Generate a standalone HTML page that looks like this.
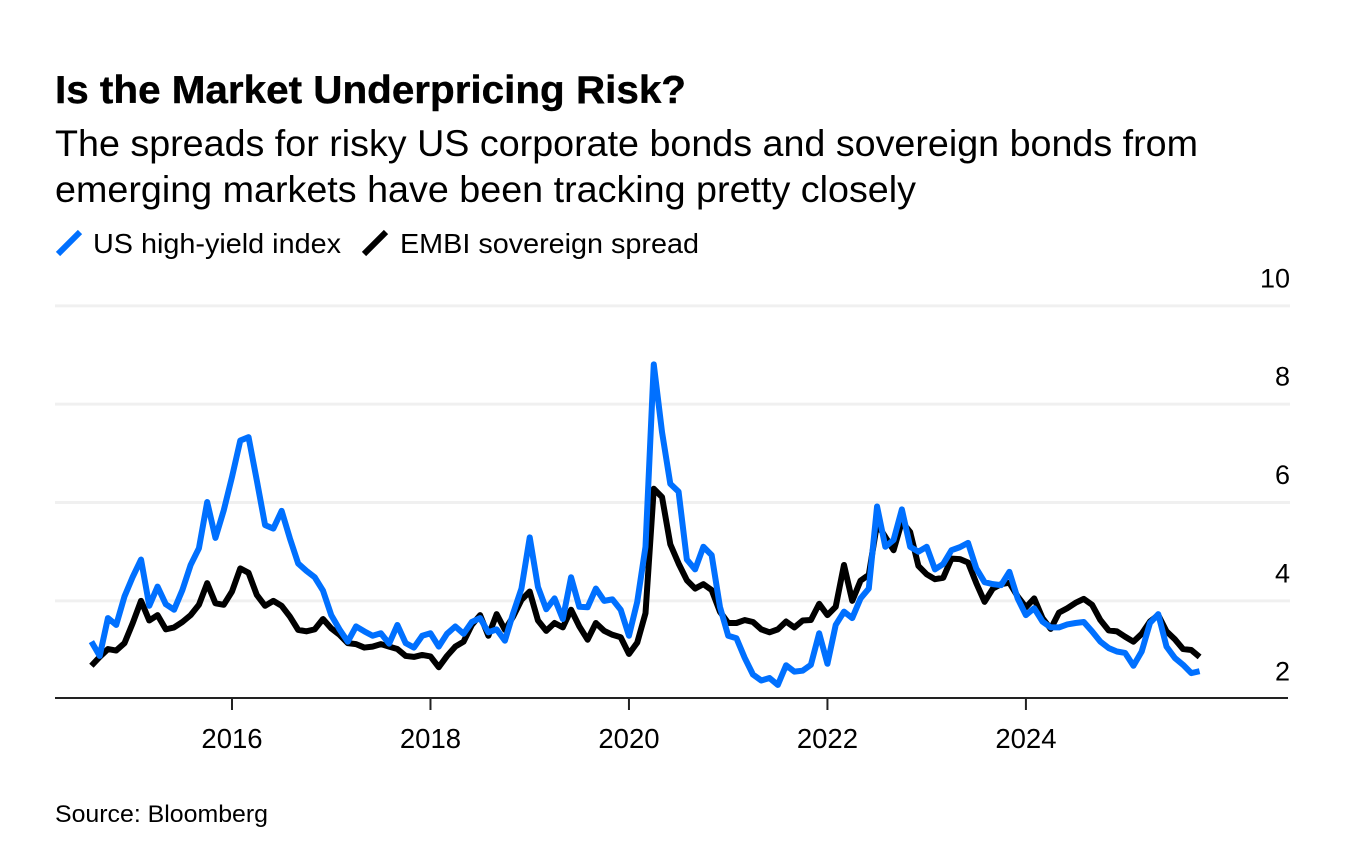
<!DOCTYPE html>
<html lang="en">
<head>
<meta charset="utf-8">
<title>Is the Market Underpricing Risk?</title>
<style>
html,body{margin:0;padding:0;background:#fff;width:1354px;height:860px;overflow:hidden}
svg{display:block}
text{font-family:"Liberation Sans",Arial,sans-serif;fill:#000}
</style>
</head>
<body>
<svg id="chart" width="1354" height="860" viewBox="0 0 1354 860" xmlns="http://www.w3.org/2000/svg">
  <rect width="1354" height="860" fill="#fff"/>
  <text x="55" y="103" font-size="39" font-weight="700" stroke="#000" stroke-width="0.4" textLength="631" lengthAdjust="spacingAndGlyphs">Is the Market Underpricing Risk?</text>
  <text x="55" y="156" font-size="37" textLength="1143" lengthAdjust="spacingAndGlyphs">The spreads for risky US corporate bonds and sovereign bonds from</text>
  <text x="55" y="202" font-size="37" textLength="861" lengthAdjust="spacingAndGlyphs">emerging markets have been tracking pretty closely</text>

  <g>
    <line x1="58" y1="254" x2="80" y2="232" stroke="#0070ff" stroke-width="6"/>
    <text x="93" y="253" font-size="27.5" textLength="248" lengthAdjust="spacingAndGlyphs">US high-yield index</text>
    <line x1="364" y1="254" x2="386" y2="232" stroke="#000" stroke-width="6"/>
    <text x="400" y="253" font-size="27.5" textLength="299" lengthAdjust="spacingAndGlyphs">EMBI sovereign spread</text>
  </g>

  <g id="grid"></g>
  <g id="yLabels"></g>
  <line x1="55" y1="698" x2="1288" y2="698" stroke="#222" stroke-width="2"/>
  <g id="xTicks"></g>
  <g id="series"></g>

  <text x="55" y="822" font-size="24" textLength="213" lengthAdjust="spacingAndGlyphs">Source: Bloomberg</text>
</svg>
<script>
const startYear = 2014;
const startMonth = 8;
const yTickValues = [2, 4, 6, 8, 10];
const xTickYears = [2016, 2018, 2020, 2022, 2024];
const highYieldValues = [
  3.17,2.88,3.65,3.51,4.09,4.49,4.84,3.90,4.29,3.93,3.82,4.22,4.73,5.07,6.01,5.28,5.84,6.52,7.26,7.33,
  6.45,5.54,5.47,5.83,5.27,4.76,4.61,4.48,4.21,3.71,3.42,3.17,3.48,3.38,3.29,3.34,3.13,3.51,3.14,3.05,
  3.29,3.34,3.07,3.33,3.48,3.33,3.57,3.65,3.36,3.42,3.19,3.75,4.25,5.29,4.28,3.83,4.05,3.63,4.48,3.88,
  3.87,4.25,4.00,4.03,3.82,3.29,3.98,5.10,8.81,7.43,6.38,6.22,4.84,4.64,5.10,4.93,3.88,3.29,3.24,2.84,
  2.50,2.38,2.43,2.29,2.69,2.56,2.58,2.70,3.34,2.72,3.51,3.78,3.65,4.05,4.25,5.92,5.10,5.24,5.86,5.10,
  5.00,5.10,4.64,4.75,5.03,5.09,5.18,4.66,4.38,4.34,4.32,4.59,4.05,3.71,3.85,3.58,3.46,3.46,3.52,3.55,
  3.57,3.38,3.17,3.04,2.97,2.94,2.68,2.97,3.55,3.73,3.07,2.84,2.70,2.53,2.57
];
const embiValues = [
  2.68,2.86,3.02,2.99,3.14,3.55,4.00,3.60,3.71,3.42,3.46,3.57,3.71,3.92,4.36,3.95,3.92,4.19,4.66,4.57,
  4.12,3.90,4.00,3.90,3.68,3.41,3.38,3.42,3.63,3.44,3.31,3.14,3.12,3.05,3.07,3.12,3.07,3.02,2.88,2.86,
  2.90,2.87,2.65,2.88,3.07,3.17,3.51,3.71,3.29,3.73,3.41,3.68,4.02,4.19,3.60,3.39,3.55,3.46,3.82,3.48,
  3.21,3.55,3.39,3.31,3.26,2.92,3.15,3.75,6.28,6.11,5.15,4.76,4.42,4.25,4.34,4.22,3.78,3.55,3.55,3.61,
  3.57,3.42,3.36,3.42,3.58,3.46,3.60,3.61,3.94,3.71,3.88,4.73,4.00,4.41,4.53,5.57,5.30,5.03,5.61,5.40,
  4.71,4.54,4.44,4.47,4.86,4.85,4.78,4.36,3.98,4.25,4.34,4.37,4.09,3.87,4.05,3.65,3.43,3.76,3.85,3.96,
  4.04,3.92,3.61,3.40,3.38,3.27,3.17,3.33,3.58,3.71,3.38,3.22,3.02,3.00,2.86
];

const NS = 'http://www.w3.org/2000/svg';
function xScale(year, month) {
  return 232 + ((year - 2016) * 12 + (month - 1)) * 8.27;
}
function yScale(v) {
  return 699.2 - (v - 2) * 49.17;
}
function seriesPoints(values) {
  return values.map(function (v, i) {
    const m = startMonth - 1 + i;
    const year = startYear + Math.floor(m / 12);
    const month = (m % 12) + 1;
    return xScale(year, month).toFixed(2) + ',' + yScale(v).toFixed(2);
  }).join(' ');
}

const gridGroup = document.getElementById('grid');
const yLabelGroup = document.getElementById('yLabels');
yTickValues.forEach(function (v) {
  if (v > 2) {
    const gl = document.createElementNS(NS, 'line');
    
    
    gl.setAttribute('x1', 55);
    gl.setAttribute('x2', 1290);
    gl.setAttribute('y1', yScale(v));
    gl.setAttribute('y2', yScale(v));
    gl.setAttribute('stroke', '#f0f0f0');
    gl.setAttribute('stroke-width', '3');
    gridGroup.appendChild(gl);
  }
  const t = document.createElementNS(NS, 'text');
  
  
  t.setAttribute('x', 1290);
  t.setAttribute('y', yScale(v) - 18.5);
  t.setAttribute('text-anchor', 'end');
  t.setAttribute('font-size', '27');
  t.textContent = String(v);
  yLabelGroup.appendChild(t);
});

const xTickGroup = document.getElementById('xTicks');
xTickYears.forEach(function (yr) {
  const x = xScale(yr, 1);
  const tk = document.createElementNS(NS, 'line');
  
  
  tk.setAttribute('x1', x);
  tk.setAttribute('x2', x);
  tk.setAttribute('y1', 698);
  tk.setAttribute('y2', 710);
  tk.setAttribute('stroke', '#222');
  tk.setAttribute('stroke-width', '2');
  xTickGroup.appendChild(tk);
  const lb = document.createElementNS(NS, 'text');
  
  
  lb.setAttribute('x', x);
  lb.setAttribute('y', 748);
  lb.setAttribute('text-anchor', 'middle');
  lb.setAttribute('font-size', '27.5');
  lb.textContent = String(yr);
  xTickGroup.appendChild(lb);
});

const seriesGroup = document.getElementById('series');
const embiLine = document.createElementNS(NS, 'polyline');


embiLine.setAttribute('points', seriesPoints(embiValues));
embiLine.setAttribute('fill', 'none');
embiLine.setAttribute('stroke', '#000');
embiLine.setAttribute('stroke-width', '6');
embiLine.setAttribute('stroke-linejoin', 'round');
seriesGroup.appendChild(embiLine);

const highYieldLine = document.createElementNS(NS, 'polyline');


highYieldLine.setAttribute('points', seriesPoints(highYieldValues));
highYieldLine.setAttribute('fill', 'none');
highYieldLine.setAttribute('stroke', '#0070ff');
highYieldLine.setAttribute('stroke-width', '6');
highYieldLine.setAttribute('stroke-linejoin', 'round');
seriesGroup.appendChild(highYieldLine);
</script>
</body>
</html>
